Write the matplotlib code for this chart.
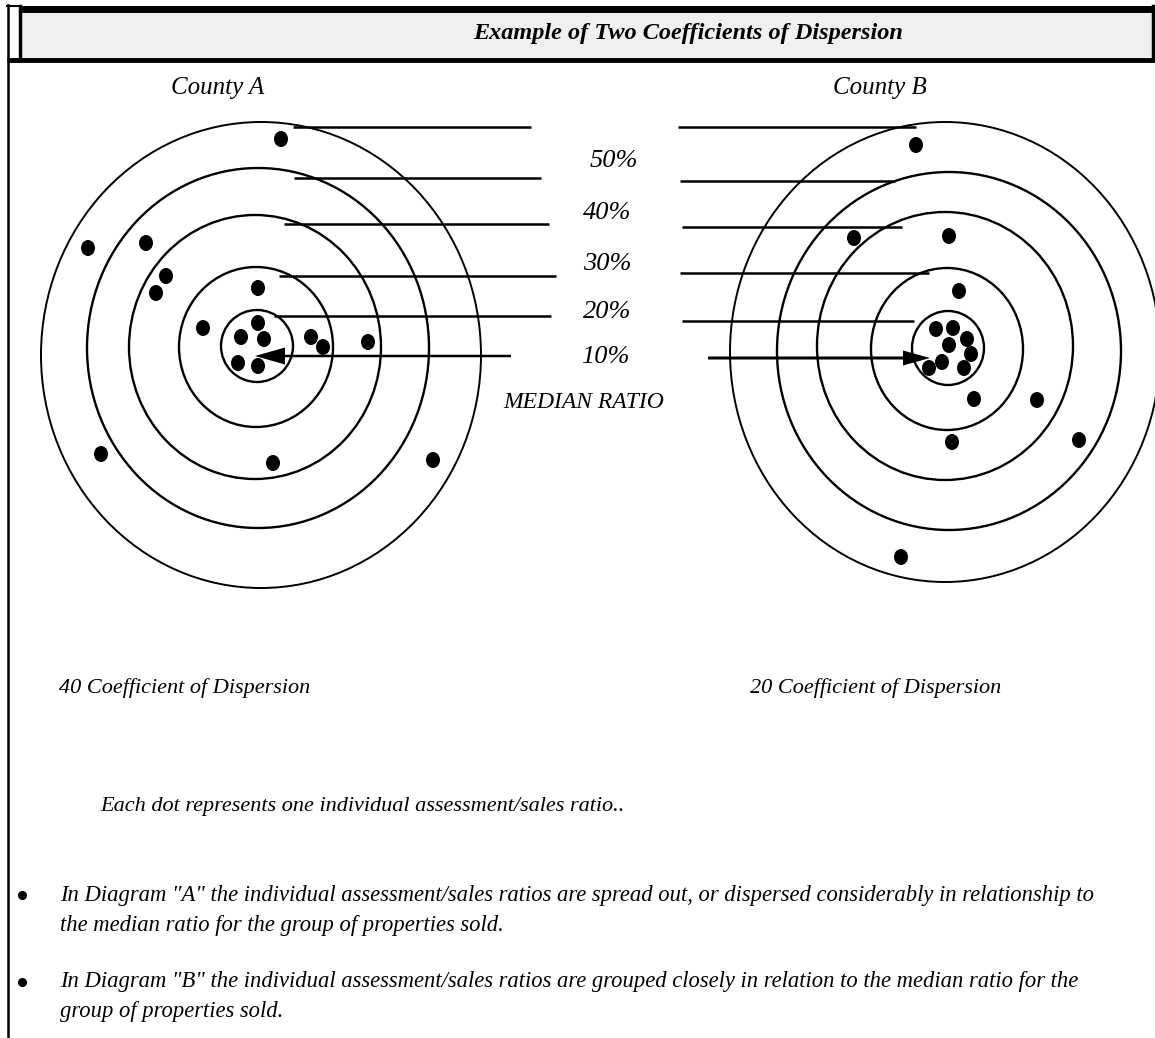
import matplotlib
matplotlib.use('Agg')
import matplotlib.pyplot as plt
from matplotlib.patches import Ellipse, Rectangle, FancyArrow

# Rings (outer -> inner): centre x, centre y, half width, half height (pixels)
ring_a_cx = [261, 258, 255, 256, 257]
ring_a_cy = [355, 348, 347, 347, 346]
ring_a_rx = [220, 171, 126, 77, 36]
ring_a_ry = [233, 180, 132, 80, 36]

ring_b_cx = [945, 949, 945, 947, 948]
ring_b_cy = [352, 351, 346, 349, 348]
ring_b_rx = [215, 172, 128, 76, 36]
ring_b_ry = [230, 179, 134, 81, 37]

# Individual assessment/sales ratios (dots)
dots_a_x = [281, 88, 146, 166, 156, 258, 203, 258, 241, 264, 238, 258, 311, 323, 368, 101, 273, 433]
dots_a_y = [139, 248, 243, 276, 293, 288, 328, 323, 337, 339, 363, 366, 337, 347, 342, 454, 463, 460]

dots_b_x = [916, 949, 854, 959, 936, 953, 967, 949, 971, 942, 929, 964, 974, 1037, 952, 1079, 901]
dots_b_y = [145, 236, 238, 291, 329, 328, 339, 345, 354, 362, 368, 368, 399, 400, 442, 440, 557]

pct_labels = ['50%', '40%', '30%', '20%', '10%']
county_labels = ['County A', 'County B']
cod_labels = ['40 Coefficient of Dispersion', '20 Coefficient of Dispersion']

title = 'Example of Two Coefficients of Dispersion'
note = 'Each dot represents one individual assessment/sales ratio..'
bullets = [
    ['In Diagram "A" the individual assessment/sales ratios are spread out, or dispersed considerably in relationship to',
     'the median ratio for the group of properties sold.'],
    ['In Diagram "B" the individual assessment/sales ratios are grouped closely in relation to the median ratio for the',
     'group of properties sold.'],
]

serif = 'Liberation Serif'

fig = plt.figure(figsize=(11.55, 10.38), dpi=100)
ax = fig.add_axes([0, 0, 1, 1])
ax.set_xlim(0, 1155)
ax.set_ylim(1038, 0)
ax.axis('off')

# frame / header
ax.add_patch(Rectangle((20, 8), 1133, 52, facecolor='#f0f0f0', edgecolor='none'))
ax.plot([20, 1153], [8.5, 8.5], color='black', lw=5, solid_capstyle='butt')
ax.plot([7, 1155], [60, 60], color='black', lw=3.5, solid_capstyle='butt')
ax.plot([7, 20], [6, 6], color='black', lw=1.5)
ax.plot([7.5, 7.5], [5, 1038], color='black', lw=1.8)
ax.plot([20, 20], [6, 60], color='black', lw=2.5)
ax.plot([1152.5, 1152.5], [6, 60], color='black', lw=2.5)
ax.text(688, 33, title, fontsize=17.5, fontweight='bold', style='italic',
        family=serif, ha='center', va='center')

# targets
for cx, cy, rx, ry in zip(ring_a_cx, ring_a_cy, ring_a_rx, ring_a_ry):
    ax.add_patch(Ellipse((cx, cy), 2 * rx, 2 * ry, fill=False, edgecolor='black',
                         lw=1.4 if rx == max(ring_a_rx) else 1.7))
for cx, cy, rx, ry in zip(ring_b_cx, ring_b_cy, ring_b_rx, ring_b_ry):
    ax.add_patch(Ellipse((cx, cy), 2 * rx, 2 * ry, fill=False, edgecolor='black',
                         lw=1.4 if rx == max(ring_b_rx) else 1.7))

for x, y in zip(dots_a_x, dots_a_y):
    ax.add_patch(Ellipse((x, y), 14, 16, facecolor='black', edgecolor='none'))
for x, y in zip(dots_b_x, dots_b_y):
    ax.add_patch(Ellipse((x, y), 14, 16, facecolor='black', edgecolor='none'))

# leader lines
lead_a = [(293, 531, 127), (294, 541, 178), (284, 549, 224), (279, 556, 276), (274, 551, 316)]
lead_b = [(678, 916, 127), (680, 895, 181), (682, 902, 227), (680, 929, 273), (682, 914, 321)]
for x0, x1, y in lead_a + lead_b:
    ax.plot([x0, x1], [y, y], color='black', lw=1.8, solid_capstyle='butt')

ax.add_patch(FancyArrow(511, 356, -226, 0, width=2.5, head_width=17, head_length=30,
                        length_includes_head=False, color='black', lw=0))
ax.add_patch(FancyArrow(708, 358, 195, 0, width=3, head_width=15, head_length=27,
                        length_includes_head=False, color='black', lw=0))

# labels
pct_x = [614, 607, 607, 607, 605]
pct_y = [161, 213, 264, 312, 357]
for lbl, x, y in zip(pct_labels, pct_x, pct_y):
    ax.text(x, y, lbl, fontsize=19, style='italic', family=serif, ha='center', va='center')
ax.text(584, 403, 'MEDIAN RATIO', fontsize=17, style='italic', family=serif, ha='center', va='center')

ax.text(218, 88, county_labels[0], fontsize=18, style='italic', family=serif, ha='center', va='center')
ax.text(880, 88, county_labels[1], fontsize=18, style='italic', family=serif, ha='center', va='center')

ax.text(59, 688, cod_labels[0], fontsize=16, style='italic', family=serif, ha='left', va='center')
ax.text(750, 688, cod_labels[1], fontsize=16, style='italic', family=serif, ha='left', va='center')

ax.text(100, 806, note, fontsize=16, style='italic', family=serif, ha='left', va='center')

for (l1, l2), y in zip(bullets, [895, 982]):
    ax.plot([22], [y], marker='o', color='black', markersize=5.5)
    ax.text(60, y, l1, fontsize=16.3, style='italic', family=serif, ha='left', va='center')
    ax.text(60, y + 30, l2, fontsize=16.3, style='italic', family=serif, ha='left', va='center')

fig.savefig('out.png', dpi=100)
